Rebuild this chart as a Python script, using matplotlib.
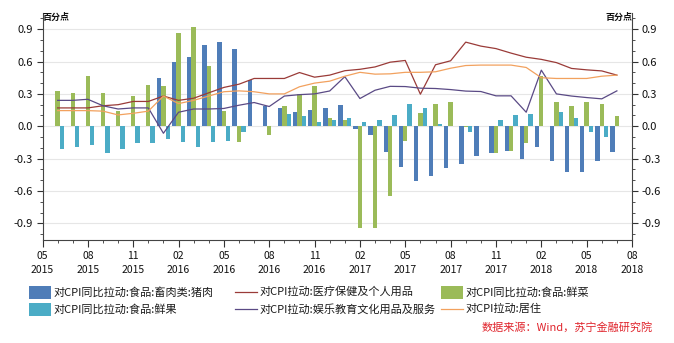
import matplotlib
matplotlib.use("Agg")
import matplotlib.pyplot as plt
import numpy as np
from matplotlib.patches import Rectangle
from matplotlib.lines import Line2D
from matplotlib.ticker import MultipleLocator

plt.rcParams['font.family'] = ['Noto Sans CJK SC', 'DejaVu Sans']

# Monthly observations, 2015-06 .. 2018-07
months = ["2015-06", "2015-07", "2015-08", "2015-09", "2015-10", "2015-11", "2015-12",
          "2016-01", "2016-02", "2016-03", "2016-04", "2016-05", "2016-06", "2016-07",
          "2016-08", "2016-09", "2016-10", "2016-11", "2016-12", "2017-01", "2017-02",
          "2017-03", "2017-04", "2017-05", "2017-06", "2017-07", "2017-08", "2017-09",
          "2017-10", "2017-11", "2017-12", "2018-01", "2018-02", "2018-03", "2018-04",
          "2018-05", "2018-06", "2018-07"]

pork = [0, 0, 0, 0, 0, 0, 0,
        0.45, 0.60, 0.64, 0.755, 0.78, 0.72, 0.43, 0.19, 0.17, 0.13, 0.15, 0.17, 0.195,
        -0.025, -0.08, -0.24, -0.38, -0.51, -0.46, -0.39, -0.35, -0.275, -0.25, -0.23,
        -0.305, -0.19, -0.32, -0.42, -0.42, -0.32, -0.24]
vegetables = [0.325, 0.305, 0.465, 0.305, 0.14, 0.28, 0.38, 0.37, 0.865, 0.92, 0.56, 0.14,
              -0.145, 0.0, -0.08, 0.185, 0.30, 0.37, 0.075, 0.055, -0.94, -0.94, -0.645,
              -0.14, 0.12, 0.205, 0.225, -0.01, 0.005, -0.25, -0.23, -0.155, 0.47, 0.225,
              0.19, 0.225, 0.205, 0.095]
fruit = [-0.215, -0.19, -0.17, -0.245, -0.21, -0.155, -0.155, -0.115, -0.145, -0.19,
         -0.145, -0.14, -0.055, 0.0, 0.0, 0.11, 0.095, 0.04, 0.055, 0.08, 0.035, 0.055,
         0.10, 0.205, 0.17, 0.025, 0.0, -0.055, 0.0, 0.055, 0.10, 0.115, 0.0, 0.13, 0.075,
         -0.055, -0.10, 0.0]
medical = [0.17, 0.17, 0.17, 0.19, 0.20, 0.23, 0.23, 0.28, 0.24, 0.26, 0.31, 0.36, 0.39,
           0.443, 0.443, 0.443, 0.498, 0.455, 0.474, 0.515, 0.528, 0.55, 0.594, 0.61,
           0.297, 0.57, 0.607, 0.78, 0.743, 0.72, 0.678, 0.64, 0.62, 0.59, 0.536, 0.523,
           0.513, 0.474]
education = [0.24, 0.24, 0.25, 0.19, 0.16, 0.17, 0.17, -0.065, 0.13, 0.16, 0.16, 0.165,
             0.195, 0.22, 0.183, 0.28, 0.293, 0.30, 0.327, 0.46, 0.257, 0.334, 0.37,
             0.368, 0.353, 0.35, 0.34, 0.326, 0.322, 0.282, 0.282, 0.13, 0.52, 0.30,
             0.28, 0.266, 0.254, 0.328]
housing = [0.145, 0.145, 0.145, 0.14, 0.105, 0.12, 0.14, 0.28, 0.21, 0.24, 0.28, 0.32,
           0.328, 0.32, 0.30, 0.30, 0.366, 0.40, 0.418, 0.464, 0.50, 0.483, 0.486, 0.50,
           0.50, 0.505, 0.538, 0.563, 0.567, 0.567, 0.567, 0.545, 0.45, 0.443, 0.443,
           0.443, 0.464, 0.474]

xtick_labels = ["05\n2015", "08\n2015", "11\n2015", "02\n2016", "05\n2016", "08\n2016",
                "11\n2016", "02\n2017", "05\n2017", "08\n2017", "11\n2017", "02\n2018",
                "05\n2018", "08\n2018"]
ytick_values = [-0.9, -0.6, -0.3, 0.0, 0.3, 0.6, 0.9]

series_names = ["对CPI同比拉动:食品:畜肉类:猪肉", "对CPI拉动:医疗保健及个人用品",
                "对CPI同比拉动:食品:鲜菜", "对CPI同比拉动:食品:鲜果",
                "对CPI拉动:娱乐教育文化用品及服务", "对CPI拉动:居住"]

c_pork = "#4F7DB8"
c_veg = "#9BBB59"
c_fruit = "#4BACC6"
c_med = "#9A3B38"
c_edu = "#5A4A85"
c_house = "#F2A15E"

W, H = 674, 343
fig = plt.figure(figsize=(W / 100, H / 100), dpi=100)
fig.patch.set_facecolor("white")

left_px, right_px, top_px, bot_px = 42.5, 632, 13, 239.5
ax = fig.add_axes([left_px / W, 1 - bot_px / H, (right_px - left_px) / W, (bot_px - top_px) / H])

x = np.arange(1, len(months) + 1)
bw = 0.29
ax.bar(x - bw, pork, width=bw, color=c_pork, zorder=2)
ax.bar(x, vegetables, width=bw, color=c_veg, zorder=2)
ax.bar(x + bw, fruit, width=bw, color=c_fruit, zorder=2)
ax.plot(x, medical, color=c_med, lw=0.9, zorder=3)
ax.plot(x, education, color=c_edu, lw=0.9, zorder=3)
ax.plot(x, housing, color=c_house, lw=0.9, zorder=3)

ax.set_xlim(0, 39)
ax.set_ylim(-1.05, 1.05)
ax.set_xticks(np.arange(0, 40, 3))
ax.set_xticklabels(xtick_labels, fontsize=7.5, linespacing=1.6)
ax.xaxis.set_minor_locator(MultipleLocator(1))
ax.set_yticks(ytick_values)
ax.set_yticklabels([f"{v:.1f}" for v in ytick_values], fontsize=8)
ax.yaxis.set_minor_locator(MultipleLocator(0.1))
ax.tick_params(axis="y", which="both", left=True, right=True, labelleft=True,
               labelright=True, direction="out", colors="#333333", labelcolor="#111111")
ax.tick_params(axis="y", which="major", length=4, width=0.8, pad=3)
ax.tick_params(axis="y", which="minor", length=2.5, width=0.6)
ax.tick_params(axis="x", which="major", length=5, width=0.8, colors="#333333",
               labelcolor="#111111", pad=3)
ax.tick_params(axis="x", which="minor", length=2.5, width=0.6, colors="#333333")

ax.grid(axis="y", which="major", color="#E6E6E6", lw=0.8, zorder=0)
ax.set_axisbelow(True)
for side in ["left", "right", "bottom"]:
    ax.spines[side].set_color("#444444")
    ax.spines[side].set_linewidth(0.8)
ax.spines["top"].set_visible(False)

fig.text(left_px / W, 1 - 17 / H, "百分点", fontsize=6.5, fontweight="bold",
         ha="left", va="center", color="#111111")
fig.text(right_px / W, 1 - 17 / H, "百分点", fontsize=6.5, fontweight="bold",
         ha="right", va="center", color="#111111")

# Legend, laid out in two rows of three entries
col_x = [29, 235, 441]
row_y = [292, 309]
entries = [
    (0, 0, "patch", c_pork, series_names[0]),
    (1, 0, "line", c_med, series_names[1]),
    (2, 0, "patch", c_veg, series_names[2]),
    (0, 1, "patch", c_fruit, series_names[3]),
    (1, 1, "line", c_edu, series_names[4]),
    (2, 1, "line", c_house, series_names[5]),
]
for col, row, kind, color, label in entries:
    x0 = col_x[col]
    yc = row_y[row]
    if kind == "patch":
        fig.add_artist(Rectangle((x0 / W, 1 - (yc + 6.5) / H), 22 / W, 13 / H,
                                 transform=fig.transFigure, color=color, lw=0))
    else:
        fig.add_artist(Line2D([x0 / W, (x0 + 22) / W], [1 - yc / H, 1 - yc / H],
                              transform=fig.transFigure, color=color, lw=0.9))
    fig.text((x0 + 25) / W, 1 - yc / H, label, fontsize=8, ha="left", va="center",
             color="#1a1a1a")

fig.text(653 / W, 1 - 327 / H, "数据来源：Wind，苏宁金融研究院", fontsize=8,
         style="italic", color="#E0242C", ha="right", va="center")

fig.savefig("out.png", dpi=100, facecolor="white")
